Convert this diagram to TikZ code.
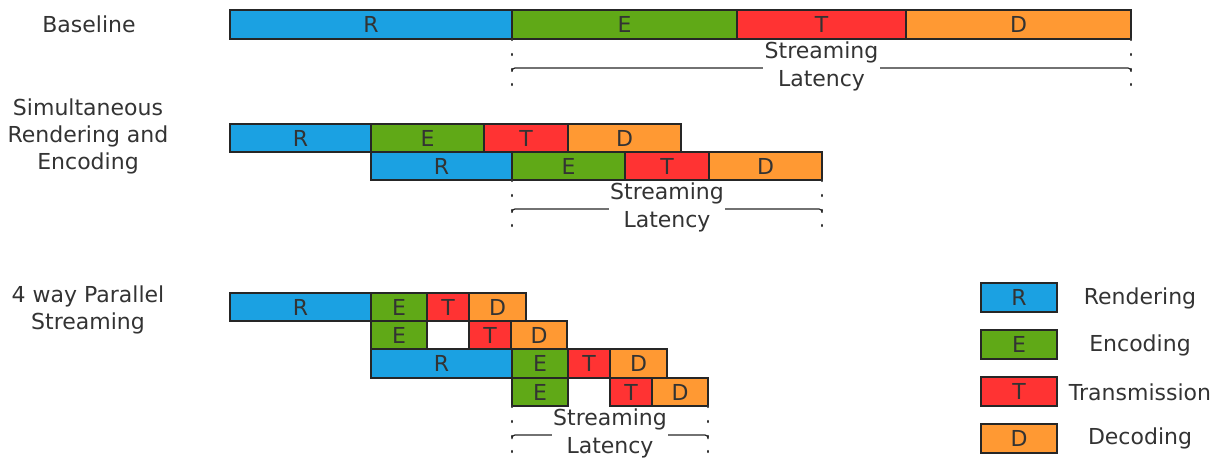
\documentclass[tikz,border=0pt]{standalone}
\usepackage{fontspec}
\setmainfont{DejaVu Sans}
\definecolor{cR}{HTML}{1BA1E2}
\definecolor{cE}{HTML}{60A917}
\definecolor{cT}{HTML}{FF3333}
\definecolor{cD}{HTML}{FF9933}
\definecolor{txt}{HTML}{333333}
\tikzset{
  box/.style={draw=black!85, line width=1.3pt, inner sep=0pt, outer sep=0pt, text=black!80,
    font=\fontsize{22}{26}\selectfont},
  rend/.style={box, fill=cR},
  enc/.style={box, fill=cE},
  tra/.style={box, fill=cT},
  dec/.style={box, fill=cD},
  lbl/.style={align=center, text=txt, font=\fontsize{22}{27}\selectfont, inner sep=0pt},
  dotline/.style={draw=txt, line width=2.4pt, dash pattern=on 1pt off 14pt, line cap=round},
  bracketline/.style={draw=black!85, line width=1.2pt, rounded corners=3pt},
  latlbl/.style={align=center, text=txt, fill=white, inner sep=1.5pt,
    font=\fontsize{22}{28}\selectfont}
}
\newcommand\seg[7]{%
  \node[#6, minimum width={(#3-#2)*1pt}, minimum height={(#5-#4)*1pt}] (#1) at ({(#2+#3)/2},{(#4+#5)/2}) {#7};}
\begin{document}
\begin{tikzpicture}[x=1pt,y=-1pt]
\useasboundingbox (0,0) rectangle (1221,462);
% left labels
\node[lbl] (l1) at (89,24) {Baseline};
\node[lbl] (l2) at (88,136) {Simultaneous\\Rendering and\\Encoding};
\node[lbl] (l3) at (88,309.5) {4 way Parallel\\Streaming};
% Baseline row
\seg{aR}{230}{512}{10}{39}{rend}{R}
\seg{aE}{512}{737}{10}{39}{enc}{E}
\seg{aT}{737}{906}{10}{39}{tra}{T}
\seg{aD}{906}{1131}{10}{39}{dec}{D}
% Simultaneous rows
\seg{bR1}{230}{371}{124}{152}{rend}{R}
\seg{bE1}{371}{484}{124}{152}{enc}{E}
\seg{bT1}{484}{568}{124}{152}{tra}{T}
\seg{bD1}{568}{681}{124}{152}{dec}{D}
\seg{bR2}{371}{512}{152}{180}{rend}{R}
\seg{bE2}{512}{625}{152}{180}{enc}{E}
\seg{bT2}{625}{709}{152}{180}{tra}{T}
\seg{bD2}{709}{822}{152}{180}{dec}{D}
% 4 way parallel rows
\seg{cR1}{230}{371}{293}{321}{rend}{R}
\seg{cE1}{371}{427}{293}{321}{enc}{E}
\seg{cT1}{427}{469}{293}{321}{tra}{T}
\seg{cD1}{469}{526}{293}{321}{dec}{D}
\seg{cE2}{371}{427}{321}{349}{enc}{E}
\seg{cT2}{469}{511}{321}{349}{tra}{T}
\seg{cD2}{511}{567}{321}{349}{dec}{D}
\seg{cR3}{371}{512}{349}{378}{rend}{R}
\seg{cE3}{512}{568}{349}{378}{enc}{E}
\seg{cT3}{568}{610}{349}{378}{tra}{T}
\seg{cD3}{610}{667}{349}{378}{dec}{D}
\seg{cE4}{512}{568}{378}{406}{enc}{E}
\seg{cT4}{610}{652}{378}{406}{tra}{T}
\seg{cD4}{652}{708}{378}{406}{dec}{D}
% latency markers
\coordinate (a1) at (512,86); \coordinate (a2) at (1131,86);
\draw[dotline] (aE.south west) -- (a1);
\draw[dotline] (aD.south east) -- (a2);
\draw[bracketline] (512,72) -- (512,68) -- (1131,68) -- (1131,72);
\node[latlbl] (la) at (821.5,66) {Streaming\\Latency};
\coordinate (b1) at (512,227); \coordinate (b2) at (822,227);
\draw[dotline] (bE2.south west) -- (b1);
\draw[dotline] (bD2.south east) -- (b2);
\draw[bracketline] (512,213) -- (512,209) -- (822,209) -- (822,213);
\node[latlbl] (lb) at (667,207) {Streaming\\Latency};
\coordinate (c1) at (512,453); \coordinate (c2) at (708,453);
\draw[dotline] (cE4.south west) -- (c1);
\draw[dotline] (cD4.south east) -- (c2);
\draw[bracketline] (512,439) -- (512,435) -- (708,435) -- (708,439);
\node[latlbl] (lc) at (610,433) {Streaming\\Latency};
% legend
\seg{kR}{981}{1057}{283}{312}{rend}{R}
\seg{kE}{981}{1057}{330}{359}{enc}{E}
\seg{kT}{981}{1057}{377}{406}{tra}{T}
\seg{kD}{981}{1057}{424}{453}{dec}{D}
\node[lbl] (tR) at (1140,298) {Rendering};
\node[lbl] (tE) at (1140,345) {Encoding};
\node[lbl] (tT) at (1140,392) {Transmission};
\node[lbl] (tD) at (1140,438) {Decoding};
\end{tikzpicture}
\end{document}
